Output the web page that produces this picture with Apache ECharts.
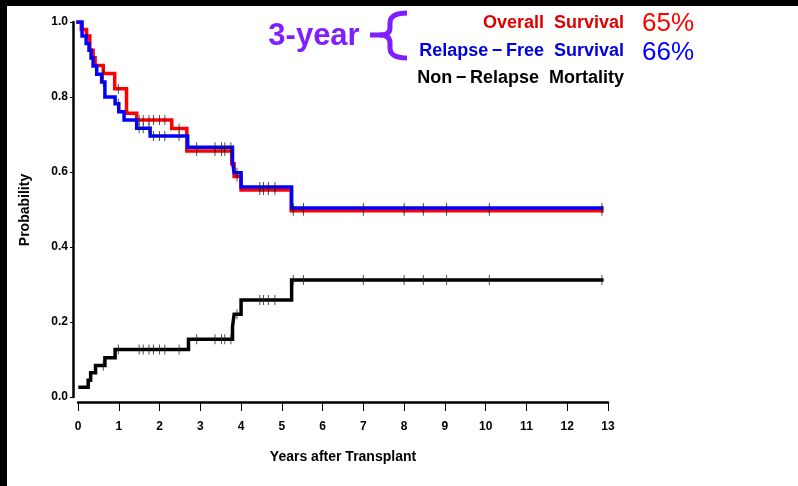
<!DOCTYPE html>
<html>
<head>
<meta charset="utf-8">
<script src="https://cdn.jsdelivr.net/npm/echarts@6/dist/echarts.min.js"></script>
<style>
  html, body { margin: 0; padding: 0; background: #fff; }
  #km_chart { width: 798px; height: 486px; }
</style>
</head>
<body>
<div id="km_chart"></div>
<script>
// Kaplan-Meier style step curves
// ------------------------------

// Overall survival: [years, probability] at each step start
var osSteps = [
  [0, 1], [0.08, 0.98], [0.21, 0.963], [0.29, 0.925], [0.37, 0.905], [0.42, 0.884],
  [0.62, 0.863], [0.9, 0.822], [1.19, 0.757], [1.44, 0.739], [2.3, 0.716],
  [2.67, 0.656], [3.77, 0.622], [3.83, 0.588], [4.0, 0.552], [5.23, 0.497], [12.85, 0.497]
];

// Relapse-free survival
var rfsSteps = [
  [0, 1], [0.1, 0.963], [0.2, 0.943], [0.27, 0.925], [0.32, 0.904], [0.37, 0.883],
  [0.46, 0.861], [0.58, 0.84], [0.66, 0.8], [0.91, 0.782], [1.0, 0.761], [1.13, 0.739],
  [1.44, 0.717], [1.77, 0.696], [2.69, 0.666], [3.79, 0.627], [3.83, 0.598],
  [4.0, 0.56], [5.24, 0.504], [12.85, 0.504]
];

// Non-relapse mortality (cumulative incidence)
var nrmSteps = [
  [0.05, 0.026], [0.25, 0.045], [0.31, 0.065], [0.43, 0.084], [0.66, 0.105],
  [0.91, 0.127], [2.71, 0.154], [3.79, 0.187], [3.83, 0.221], [4.0, 0.259],
  [5.24, 0.312], [12.85, 0.312]
];

// Censoring times (years)
var censorTimes = [
  0.62, 0.99, 1.5, 1.6, 1.74, 1.85, 2.0, 2.13, 2.48, 2.91, 3.36, 3.52, 3.6, 3.75,
  3.9, 4.46, 4.55, 4.67, 4.83, 5.28, 5.53, 7.0, 8.0, 8.47, 9.04, 10.09, 12.85
];

var xTicks = [0, 13, 1];
var yTicks = [0, 1, 0.2];

var legendLabels = [
  "Overall  Survival",
  "Relapse\u2009\u2212\u2009Free  Survival",
  "Non\u2009\u2212\u2009Relapse  Mortality"
];
var legendRates = ["65%", "66%"];

// value of a step curve at time t
function stepValue(steps, t) {
  var v = steps[0][1];
  for (var i = 0; i < steps.length; i++) {
    if (steps[i][0] <= t + 1e-9) v = steps[i][1];
  }
  return v;
}

function censorPoints(steps) {
  return censorTimes
    .filter(function (t) { return t >= steps[0][0]; })
    .map(function (t) { return [t, stepValue(steps, t)]; });
}

var chart = echarts.init(document.getElementById("km_chart"));

var font = "'Liberation Sans', Arial, sans-serif";
var purple = "#7f1fff";

var lineSeries = function (name, steps, color, z) {
  return {
    name: name,
    type: "line",
    step: "end",
    data: steps,
    symbol: "none",
    z: z,
    lineStyle: { color: color, width: 3.5, cap: "square", join: "miter" }
  };
};

var censorSeries = function (steps) {
  return {
    type: "scatter",
    data: censorPoints(steps),
    symbol: "rect",
    symbolSize: [1, 10],
    z: 10,
    itemStyle: { color: "#222" },
    silent: true
  };
};

// axes are drawn detached from the plot area (SAS style), so use extra grids
var hiddenX = { type: "value", min: xTicks[0], max: xTicks[1], interval: xTicks[2], show: false };
var hiddenY = { type: "value", min: yTicks[0], max: yTicks[1], interval: yTicks[2], show: false };

// curly brace next to "3-year"
var braceStyle = { stroke: purple, lineWidth: 5, fill: null };
var brace = [
  { type: "bezierCurve", shape: { x1: 407, y1: 13, x2: 390, y2: 22, cpx1: 391, cpy1: 13 }, style: braceStyle },
  { type: "line", shape: { x1: 390, y1: 22, x2: 390, y2: 28 }, style: braceStyle },
  { type: "bezierCurve", shape: { x1: 390, y1: 28, x2: 380, y2: 35, cpx1: 390, cpy1: 35 }, style: braceStyle },
  { type: "line", shape: { x1: 381, y1: 35, x2: 370, y2: 35 }, style: braceStyle },
  { type: "bezierCurve", shape: { x1: 380, y1: 35, x2: 390, y2: 43, cpx1: 390, cpy1: 35 }, style: braceStyle },
  { type: "line", shape: { x1: 390, y1: 43, x2: 390, y2: 49 }, style: braceStyle },
  { type: "bezierCurve", shape: { x1: 390, y1: 49, x2: 407, y2: 58, cpx1: 391, cpy1: 58 }, style: braceStyle }
];

chart.setOption({
  animation: false,
  backgroundColor: "#fff",
  textStyle: { fontFamily: font },
  grid: [
    { left: 78, right: 190, top: 22, bottom: 89 },   // plot
    { left: 78, right: 190, top: 22, bottom: 84 },   // x axis, 5px lower
    { left: 73, right: 195, top: 22, bottom: 89 }    // y axis, 5px left
  ],
  xAxis: [
    hiddenX,
    {
      type: "value",
      gridIndex: 1,
      min: xTicks[0],
      max: xTicks[1],
      interval: xTicks[2],
      axisLine: { lineStyle: { color: "#000", width: 2.5 } },
      axisTick: { length: 9, lineStyle: { color: "#000", width: 1 } },
      axisLabel: { color: "#000", fontWeight: "bold", fontSize: 12, margin: 19, fontFamily: font },
      splitLine: { show: false }
    },
    Object.assign({ gridIndex: 2 }, hiddenX)
  ],
  yAxis: [
    hiddenY,
    Object.assign({ gridIndex: 1 }, hiddenY),
    {
      type: "value",
      gridIndex: 2,
      min: yTicks[0],
      max: yTicks[1],
      interval: yTicks[2],
      axisLine: { show: true, lineStyle: { color: "#000", width: 2.5 } },
      axisTick: { show: true, length: 3, lineStyle: { color: "#000", width: 1 } },
      axisLabel: {
        color: "#000", fontWeight: "bold", fontSize: 12, margin: 5, fontFamily: font,
        formatter: function (v) { return v.toFixed(1); }
      },
      splitLine: { show: false }
    }
  ],
  graphic: [
    // black frame strips at top and left
    { type: "rect", left: 0, top: 0, shape: { width: 798, height: 6 }, style: { fill: "#000" }, z: 100 },
    { type: "rect", left: 0, top: 0, shape: { width: 7, height: 486 }, style: { fill: "#000" }, z: 100 },
    {
      type: "text", x: 25, y: 210, rotation: Math.PI / 2,
      style: { text: "Probability", fill: "#000", font: "bold 14px " + font, align: "center", verticalAlign: "middle" }
    },
    {
      type: "text", x: 343, y: 457,
      style: { text: "Years after Transplant", fill: "#000", font: "bold 14px " + font, align: "center", verticalAlign: "middle" }
    },
    {
      type: "text", x: 314, y: 36,
      style: { text: "3-year", fill: purple, font: "bold 31px " + font, align: "center", verticalAlign: "middle" }
    },
    {
      type: "text", x: 624, y: 23,
      style: { text: legendLabels[0], fill: "#e00000", font: "bold 18px " + font, align: "right", verticalAlign: "middle" }
    },
    {
      type: "text", x: 624, y: 51,
      style: { text: legendLabels[1], fill: "#0000e0", font: "bold 18px " + font, align: "right", verticalAlign: "middle" }
    },
    {
      type: "text", x: 624, y: 78,
      style: { text: legendLabels[2], fill: "#000", font: "bold 18px " + font, align: "right", verticalAlign: "middle" }
    },
    {
      type: "text", x: 642, y: 24,
      style: { text: legendRates[0], fill: "#ff0000", font: "26px " + font, align: "left", verticalAlign: "middle" }
    },
    {
      type: "text", x: 642, y: 53,
      style: { text: legendRates[1], fill: "#0000ff", font: "26px " + font, align: "left", verticalAlign: "middle" }
    }
  ].concat(brace),
  series: [
    lineSeries("Overall Survival", osSteps, "#ff0000", 2),
    lineSeries("Relapse-Free Survival", rfsSteps, "#0000ff", 3),
    lineSeries("Non-Relapse Mortality", nrmSteps, "#000000", 2),
    censorSeries(osSteps),
    censorSeries(rfsSteps),
    censorSeries(nrmSteps)
  ]
});
</script>
</body>
</html>
